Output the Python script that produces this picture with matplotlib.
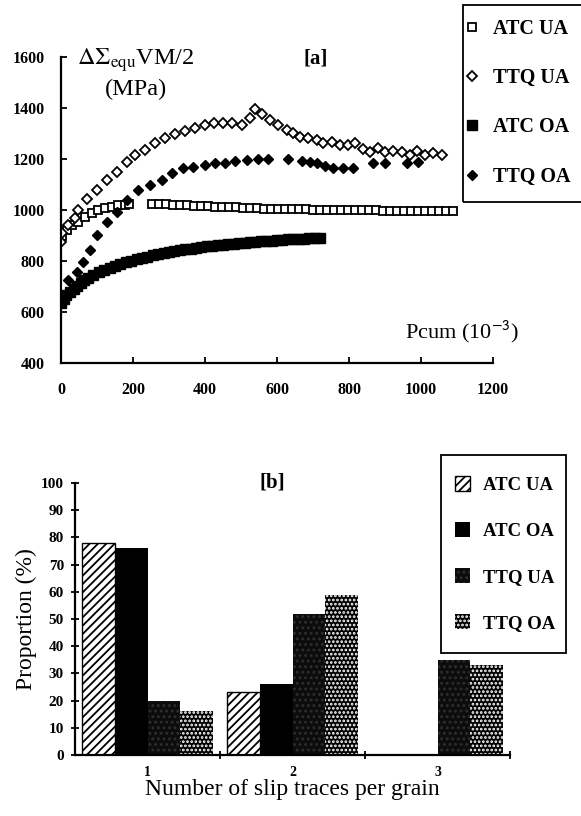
# Cyclic stress curves [a] and slip trace proportions [b]
import numpy as np
import matplotlib
matplotlib.use('Agg')
import matplotlib.pyplot as plt
from matplotlib.patches import Rectangle

plt.rcParams['font.family'] = ['Liberation Serif', 'DejaVu Serif']
plt.rcParams['mathtext.fontset'] = 'stix'
plt.rcParams['hatch.linewidth'] = 1.3

W, H = 581, 816
def fx(x, y): # pixel -> figure fraction
    return x / W, 1 - y / H

# ---- panel [a] data (Pcum 10^-3, MPa)
atc_ua_x = [3, 17, 31, 47, 67, 86, 103, 122, 142, 158, 178, 190,
            253, 272, 292, 311, 331, 350, 370, 389, 408, 428, 447, 467, 486, 506, 525, 544,
            564, 583, 603, 622, 642, 661, 681, 700, 719, 739, 758, 778, 797, 817, 836, 856,
            875, 894, 914, 933, 953, 972, 992, 1011, 1031, 1050, 1070, 1090]
atc_ua_y = [900, 920, 940, 953, 972, 988, 1000, 1008, 1012, 1020, 1020, 1025,
            1025, 1025, 1022, 1020, 1020, 1018, 1016, 1015, 1014, 1012, 1012, 1010, 1010, 1008, 1008, 1006,
            1005, 1005, 1004, 1003, 1003, 1002, 1002, 1001, 1000, 1000, 1000, 1000, 1000, 1000, 999, 999,
            999, 998, 998, 998, 998, 997, 997, 997, 997, 997, 997, 997]

ttq_ua_x = [0, 3, 19, 39, 47, 72, 100, 128, 156, 183, 206, 233, 261, 289, 317, 344, 372, 400,
            425, 450, 475, 503, 525, 540, 558, 581, 603, 628, 644, 664, 686, 711, 728, 753, 775,
            797, 817, 839, 858, 881, 900, 922, 947, 969, 989, 1011, 1033, 1058]
ttq_ua_y = [875, 910, 940, 970, 1000, 1045, 1080, 1117, 1150, 1188, 1215, 1235, 1263, 1282, 1300,
            1310, 1320, 1333, 1341, 1341, 1341, 1333, 1360, 1395, 1375, 1353, 1333, 1314, 1302, 1286,
            1282, 1275, 1263, 1267, 1255, 1255, 1263, 1240, 1228, 1243, 1228, 1230, 1228, 1215,
            1230, 1215, 1225, 1215]

atc_oa_x = [0, 8, 15, 25, 35, 45, 55, 65, 75, 90, 105, 120, 135, 150, 165, 180, 195, 210, 225,
            240, 255, 270, 285, 300, 315, 330, 345, 360, 375, 390, 405, 420, 435, 450, 465, 480,
            495, 510, 525, 540, 555, 570, 585, 600, 615, 630, 645, 660, 675, 690, 705, 720]
atc_oa_y = [635, 650, 665, 680, 692, 703, 715, 724, 732, 745, 755, 765, 774, 782, 789, 795, 801,
            807, 812, 817, 822, 827, 831, 835, 839, 843, 846, 849, 852, 855, 858, 860, 862, 864,
            866, 868, 870, 872, 874, 876, 877, 879, 880, 882, 883, 885, 886, 887, 888, 889, 890, 891]

ttq_oa_x = [19, 44, 61, 81, 100, 128, 156, 183, 214, 247, 281, 308, 339, 367, 400, 428, 456,
            483, 517, 547, 575, 631, 669, 692, 711, 733, 756, 783, 811, 867, 900, 961, 992]
ttq_oa_y = [725, 757, 796, 843, 902, 953, 992, 1039, 1078, 1098, 1118, 1145, 1165, 1169, 1176,
            1184, 1184, 1192, 1196, 1200, 1200, 1200, 1192, 1188, 1184, 1173, 1165, 1165, 1165,
            1184, 1184, 1184, 1188]

# ---- panel [b] data (%)
n_traces = ['1', '2', '3']
atc_ua_p = [78, 23, 0]
atc_oa_p = [76, 26, 0]
ttq_ua_p = [20, 52, 35]
ttq_oa_p = [16, 59, 33]

fig = plt.figure(figsize=(W / 100, H / 100), dpi=100)

# ================= [a]
ax1 = fig.add_axes([61 / W, 1 - 363 / H, (493 - 61) / W, (363 - 57) / H])
ax1.plot(atc_ua_x, atc_ua_y, 's', ms=6, mfc='white', mec='black', mew=1.3, ls='none', label='ATC UA')
ax1.plot(ttq_ua_x, ttq_ua_y, 'D', ms=5.5, mfc='white', mec='black', mew=1.3, ls='none', label='TTQ UA')
ax1.plot(atc_oa_x, atc_oa_y, 's', ms=7, color='black', ls='none', label='ATC OA')
ax1.plot(ttq_oa_x, ttq_oa_y, 'D', ms=5.5, color='black', ls='none', label='TTQ OA')
ax1.set_xlim(0, 1200)
ax1.set_ylim(400, 1600)
ax1.set_xticks([0, 200, 400, 600, 800, 1000, 1200])
ax1.set_yticks([400, 600, 800, 1000, 1200, 1400, 1600])
for s in ['top', 'right']:
    ax1.spines[s].set_visible(False)
for s in ['left', 'bottom']:
    ax1.spines[s].set_linewidth(1.6)
ax1.tick_params(direction='in', length=4, width=1.3)
ax1.tick_params(axis='y', pad=12)
ax1.tick_params(axis='x', pad=14)
for lab in ax1.get_xticklabels() + ax1.get_yticklabels():
    lab.set_fontweight('bold')
    lab.set_fontsize(11.5)

fig.text(*fx(136, 60), r'$\Delta\Sigma_{\rm equ}$VM/2', fontsize=17.5, ha='center', va='center')
fig.text(*fx(136, 89), '(MPa)', fontsize=17.5, ha='center', va='center')
fig.text(*fx(316, 59), '[a]', fontsize=15, fontweight='bold', ha='center', va='center')
fig.text(*fx(462, 332), r'Pcum (10$^{\mathsf{-3}}$)', fontsize=16, ha='center', va='center')

leg1 = fig.legend(handles=ax1.get_lines(), loc='upper left', bbox_to_anchor=fx(463, 19),
                  frameon=False, fontsize=14.5, numpoints=1, handlelength=0.9,
                  handletextpad=0.6, labelspacing=1.45, borderpad=0, borderaxespad=0)
for t in leg1.get_texts():
    t.set_fontweight('bold')
fig.patches.append(Rectangle(fx(463, 202), 140 / W, 197 / H, transform=fig.transFigure,
                             fill=False, ec='black', lw=1.3))

# ================= [b]
ax2 = fig.add_axes([75 / W, 1 - 755 / H, (510 - 75) / W, (755 - 483) / H])
pos = np.arange(len(n_traces))
bw = 0.2275
b1 = ax2.bar(pos - 1.5 * bw, atc_ua_p, bw, facecolor='white', edgecolor='black', hatch='////',
             lw=1.0, label='ATC UA')
b2 = ax2.bar(pos - 0.5 * bw, atc_oa_p, bw, color='black', label='ATC OA')
b3 = ax2.bar(pos + 0.5 * bw, ttq_ua_p, bw, facecolor='#0c0c0c', edgecolor='#2e2e2e', hatch='...',
             lw=0, label='TTQ UA')
b4 = ax2.bar(pos + 1.5 * bw, ttq_oa_p, bw, facecolor='black', edgecolor='white', hatch='....',
             lw=0, label='TTQ OA')
ax2.set_xlim(-0.5, 2.5)
ax2.set_ylim(0, 100)
ax2.set_yticks(range(0, 101, 10))
ax2.set_xticks([0.5, 1.5, 2.5])
ax2.set_xticklabels([])
ax2.set_xticks(pos, minor=True)
ax2.set_xticklabels(n_traces, minor=True)
ax2.tick_params(axis='x', which='minor', length=0, pad=8)
ax2.tick_params(axis='both', which='major', direction='inout', length=6, width=1.3)
ax2.tick_params(axis='y', pad=5)
for s in ['top', 'right']:
    ax2.spines[s].set_visible(False)
for s in ['left', 'bottom']:
    ax2.spines[s].set_linewidth(1.6)
for lab in ax2.get_yticklabels():
    lab.set_fontweight('bold')
    lab.set_fontsize(11)
for lab in ax2.get_xticklabels(minor=True):
    lab.set_fontweight('bold')
    lab.set_fontsize(10)
ax2.set_ylabel('Proportion (%)', fontsize=17, labelpad=3)
ax2.set_xlabel('Number of slip traces per grain', fontsize=17, labelpad=0)

fig.text(*fx(272, 482), '[b]', fontsize=15, fontweight='bold', ha='center', va='center')

leg2 = fig.legend(handles=[b1, b2, b3, b4], loc='upper left', bbox_to_anchor=fx(455, 476),
                  frameon=False, fontsize=13.5, handlelength=0.8, handleheight=0.85,
                  handletextpad=0.7, labelspacing=1.5, borderpad=0, borderaxespad=0)
for t in leg2.get_texts():
    t.set_fontweight('bold')
fig.patches.append(Rectangle(fx(441, 653), 125 / W, 198 / H, transform=fig.transFigure,
                             fill=False, ec='black', lw=1.3))

fig.savefig('out.png', dpi=100)
